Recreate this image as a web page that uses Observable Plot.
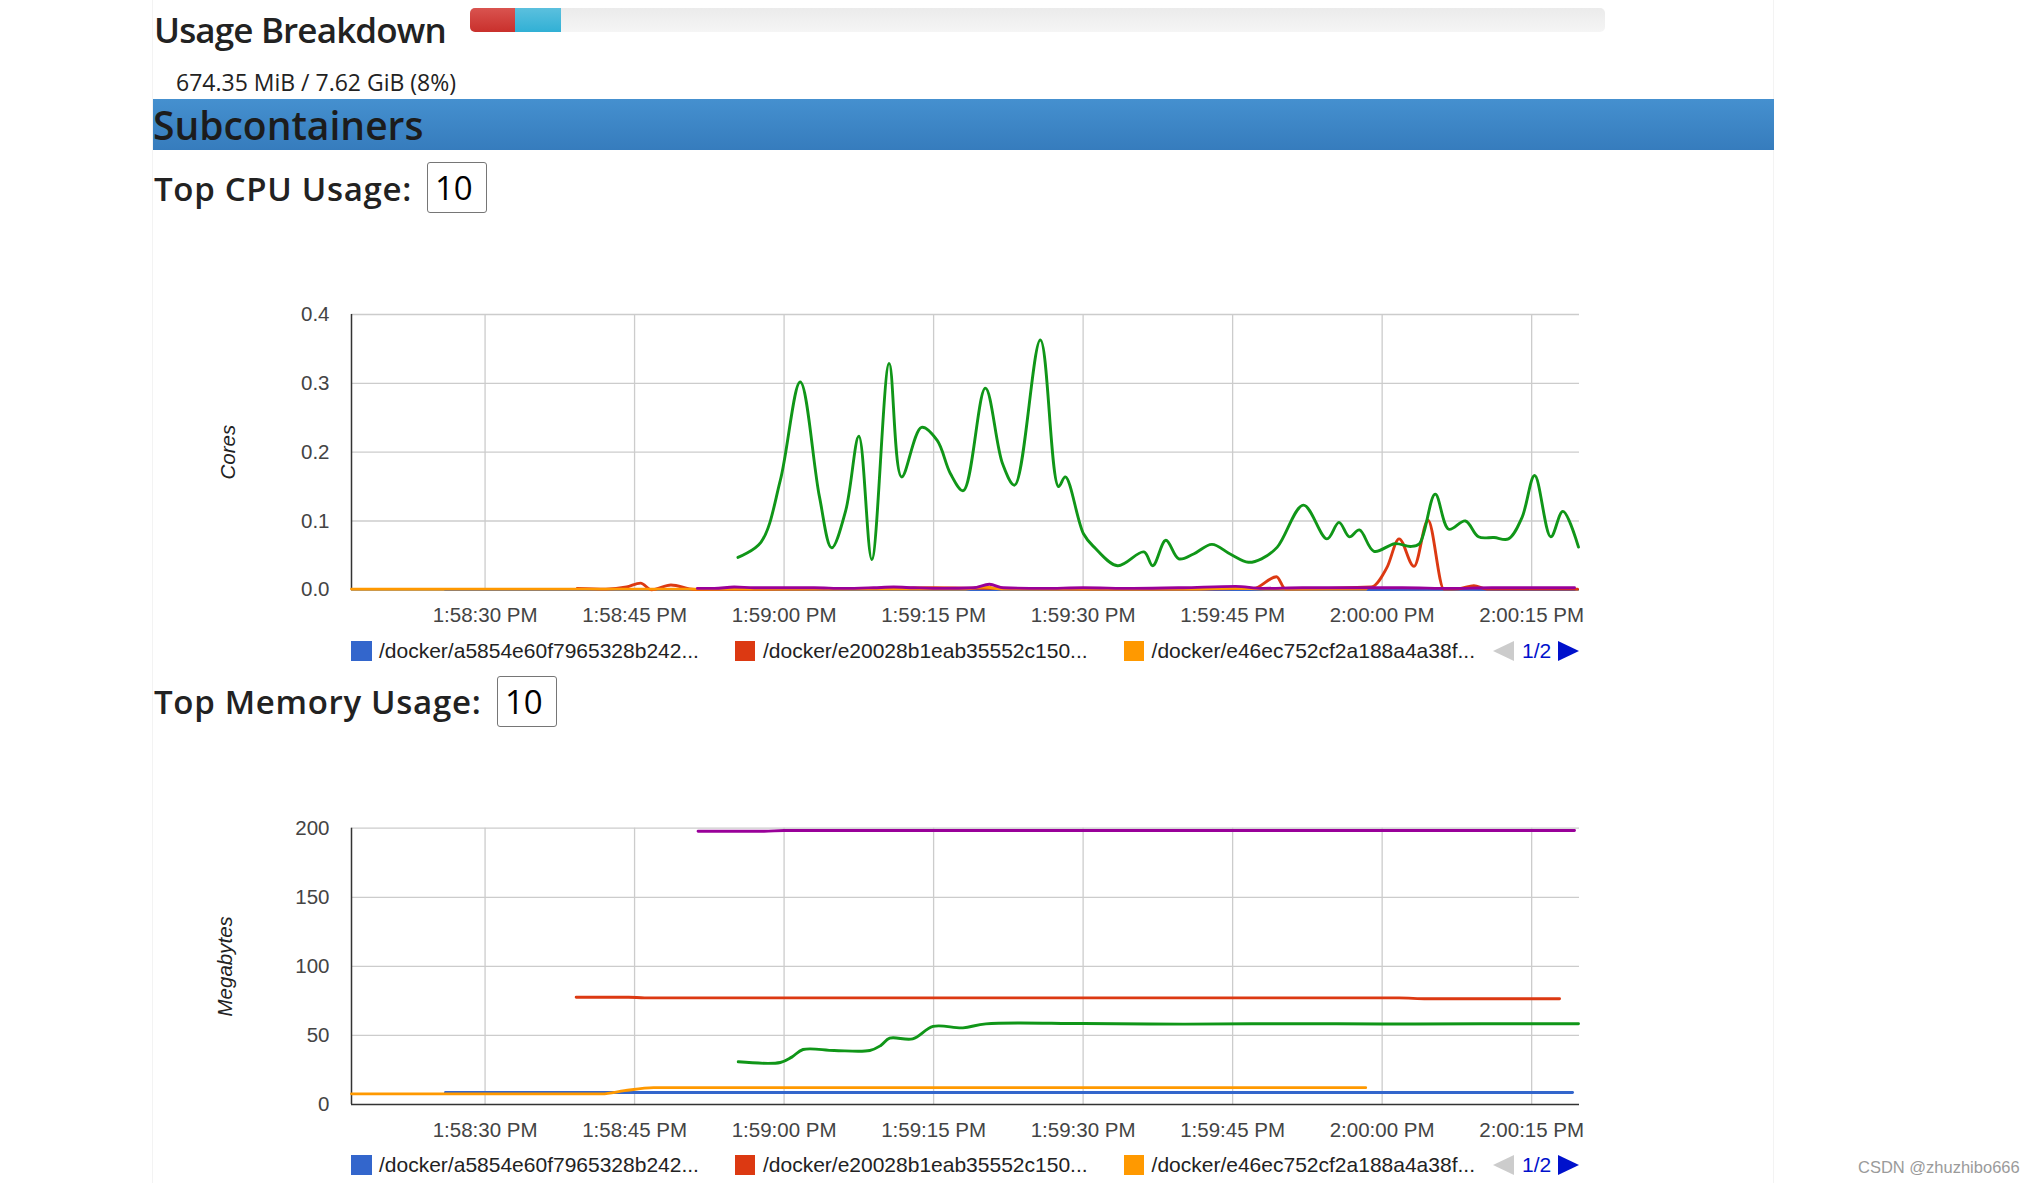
<!DOCTYPE html>
<html><head><meta charset="utf-8">
<script src="https://cdn.jsdelivr.net/npm/d3@7"></script>
<script src="https://cdn.jsdelivr.net/npm/@observablehq/plot@0.6"></script>
<style>
html,body{margin:0;padding:0;background:#fff;}
body{width:2030px;height:1183px;position:relative;overflow:hidden;font-family:"Open Sans","Noto Sans",sans-serif;color:#222;}
.abs{position:absolute;white-space:nowrap;line-height:1;}
.hd{font-weight:600;}
.frame{position:absolute;top:0;bottom:0;width:1px;background:#f3f3f3;}
.num{border:1.3px solid #767676;border-radius:3px;box-sizing:border-box;color:#000;font-size:33px;line-height:1;padding:0 0 0 7px;display:flex;align-items:center;}
.legend{position:absolute;display:flex;align-items:center;font-family:"Liberation Sans",Arial,sans-serif;font-size:21px;color:#222;white-space:nowrap;}
.legend .sw{width:20.5px;height:20px;margin-right:7.5px;flex:none;}
.legend .it{display:flex;align-items:center;margin-right:36px;}
.pager{position:absolute;display:flex;align-items:center;font-family:"Liberation Sans",Arial,sans-serif;font-size:21px;color:#0011cc;}
.tl{width:0;height:0;border-top:10.5px solid transparent;border-bottom:10.5px solid transparent;border-right:21px solid #cccccc;margin-right:8px;}
.tr{width:0;height:0;border-top:10.5px solid transparent;border-bottom:10.5px solid transparent;border-left:21px solid #0011cc;margin-left:7px;}
.chart{position:absolute;left:153px;}
</style>
</head>
<body>
<div class="frame" style="left:152px"></div>
<div class="frame" style="left:1773px"></div>

<div class="abs hd" id="title1" style="left:154px;top:12px;font-size:35px;letter-spacing:-0.85px;">Usage Breakdown</div>
<div id="progress" style="position:absolute;left:469.5px;top:7.5px;width:1135px;height:24.5px;border-radius:5px;overflow:hidden;background:linear-gradient(#ebebeb,#f5f5f5);display:flex;"></div>
<div class="abs" id="memtext" style="left:176px;top:71px;font-size:23px;"></div>

<div style="position:absolute;left:153px;top:99px;width:1621px;height:51px;background:linear-gradient(#4590cf,#367cbd);"></div>
<div class="abs hd" style="left:153px;top:105px;font-size:39px;color:#1c1c1c;letter-spacing:0px;">Subcontainers</div>

<div class="abs hd" style="left:154px;top:172px;font-size:33px;letter-spacing:0.7px;">Top CPU Usage:</div>
<div class="num" style="position:absolute;left:427px;top:162px;width:60px;height:51px;">10</div>

<div class="abs hd" style="left:154px;top:685px;font-size:33px;letter-spacing:0.7px;">Top Memory Usage:</div>
<div class="num" style="position:absolute;left:497px;top:676px;width:60px;height:51px;">10</div>

<div id="cpu" class="chart" style="top:290px;"></div>
<div id="mem" class="chart" style="top:800px;"></div>
<div id="cpuLegend" class="legend" style="left:351px;top:640px;height:21px;"></div>
<div id="memLegend" class="legend" style="left:351px;top:1154px;height:21px;"></div>
<div class="pager" style="left:1493px;top:640px;height:21px;"><div class="tl"></div>1/2<div class="tr"></div></div>
<div class="pager" style="left:1493px;top:1154px;height:21px;"><div class="tl"></div>1/2<div class="tr"></div></div>

<div class="abs" style="left:1858px;top:1159px;font-family:'Liberation Sans',Arial,sans-serif;font-size:16.5px;color:#9a9a9a;">CSDN @zhuzhibo666</div>

<script>
// ---------- data ----------
const memoryUsedText = "674.35 MiB / 7.62 GiB (8%)";
const breakdownPct = [4.0, 4.05];            // red (hot), blue (total) segments, percent of limit
const breakdownColors = [["#d9534f","#c9302c"],["#5bc0de","#31b0d5"]];

const seriesNames = [
  "/docker/a5854e60f7965328b242...",
  "/docker/e20028b1eab35552c150...",
  "/docker/e46ec752cf2a188a4a38f...",
  "/docker/green",
  "/docker/purple"
];
const seriesColors = ["#3366cc","#dc3912","#ff9900","#109618","#990099"];
const legendCount = 3;

// time in seconds after 1:58:00 PM
const xDomainSec = [16.6, 139.8];
const xTickSec = [30, 45, 60, 75, 90, 105, 120, 135];
const cpuTicks = [0, 0.1, 0.2, 0.3, 0.4];
const memTicks = [0, 50, 100, 150, 200];

// CPU (cores)
const cpuBlueT = [26.0, 60, 90, 118.4, 125, 132, 139.3];
const cpuBlueV = [0.0005, 0.0005, 0.0005, 0.0005, 0.0006, 0.0005, 0.0005];

const cpuRedT = [39.25, 42.1, 44.2, 45.6, 46.7, 48.65, 51.0, 60, 70, 75, 80, 90, 100, 107.1, 109.4, 110.3, 118.9, 120.5, 121.7, 123.2, 124.6, 126.2, 127.7, 129.2, 130.5, 139.6];
const cpuRedV = [0.002, 0.001, 0.004, 0.0097, 0.0, 0.007, 0.0005, 0.001, 0.002, 0.003, 0.002, 0.001, 0.001, 0.002, 0.019, 0.001, 0.004, 0.033, 0.074, 0.034, 0.101, 0.001, 0.0015, 0.006, 0.001, 0.001];

const cpuOrangeT = [16.6, 30, 40, 50, 60, 70, 78, 80, 82, 90, 100, 105, 110, 118.4];
const cpuOrangeV = [0.001, 0.001, 0.001, 0.001, 0.001, 0.001, 0.001, 0.004, 0.001, 0.001, 0.001, 0.002, 0.001, 0.001];

const cpuGreenT = [55.37, 57.67, 59.62, 61.62, 63.55, 64.77, 66.18, 67.5, 68.8, 70.54, 71.79, 73.79, 75.36, 76.68, 77.98, 80.19, 81.92, 83.13, 85.71, 87.53, 88.22, 90.05, 91.11, 93.46, 96.09, 96.99, 98.3, 99.6, 101.08, 102.92, 104.75, 106.58, 107.9, 109.48, 112.1, 114.46, 115.67, 116.71, 117.72, 119.18, 121.28, 122.86, 123.74, 125.32, 126.69, 128.35, 129.66, 131.23, 132.67, 134.03, 135.3, 136.92, 138.13, 139.7];
const cpuGreenV = [0.047, 0.069, 0.159, 0.302, 0.135, 0.061, 0.115, 0.223, 0.044, 0.329, 0.164, 0.236, 0.217, 0.169, 0.144, 0.293, 0.183, 0.152, 0.363, 0.150, 0.164, 0.081, 0.062, 0.035, 0.055, 0.035, 0.072, 0.045, 0.052, 0.066, 0.052, 0.040, 0.045, 0.062, 0.123, 0.074, 0.098, 0.077, 0.087, 0.056, 0.067, 0.063, 0.067, 0.139, 0.088, 0.100, 0.077, 0.076, 0.074, 0.105, 0.166, 0.077, 0.114, 0.062];

const cpuPurpleT = [51.3, 53, 55, 57, 60, 63, 66, 69, 71, 73, 76, 79, 80.6, 82, 86, 90, 95, 100, 105.3, 108, 112, 118, 122, 127, 131, 135, 139.3];
const cpuPurpleV = [0.002, 0.002, 0.004, 0.003, 0.003, 0.003, 0.002, 0.003, 0.004, 0.003, 0.002, 0.003, 0.008, 0.003, 0.002, 0.003, 0.002, 0.003, 0.005, 0.002, 0.003, 0.003, 0.003, 0.002, 0.003, 0.003, 0.003];

// Memory (megabytes)
const memBlueT = [26.03, 60, 100, 139.1];
const memBlueV = [8.7, 8.7, 8.7, 8.7];

const memRedT = [39.14, 44.4, 46.0, 80, 121.7, 124.5, 137.8];
const memRedV = [77.6, 77.6, 77.2, 77.2, 77.2, 76.5, 76.5];

const memOrangeT = [16.6, 30, 41.73, 43.98, 46.9, 60, 90, 118.35];
const memOrangeV = [7.7, 7.7, 7.7, 10.0, 12.2, 12.2, 12.2, 12.2];

const memGreenT = [55.4, 59.62, 60.77, 61.9, 65.03, 68.6, 69.7, 70.6, 72.9, 74.95, 77.94, 80.25, 90, 100, 110, 120, 130, 139.7];
const memGreenV = [30.9, 30.4, 34.3, 39.8, 39.1, 39.1, 42.7, 48.0, 47.5, 56.5, 55.5, 58.4, 58.6, 58.2, 58.5, 58.3, 58.4, 58.5];

const memPurpleT = [51.37, 58, 60, 100, 139.3];
const memPurpleV = [197.8, 197.8, 198.3, 198.3, 198.3];

// ---------- build ----------
const base = Date.UTC(2024, 0, 1, 13, 58, 0);
const toDate = s => new Date(base + s * 1000);
const fmtTime = d3.utcFormat("%-I:%M:%S %p");

function rows(T, V, name) { return T.map((t, i) => ({date: toDate(t), v: V[i], series: name})); }

const cpuSeries = [
  rows(cpuBlueT, cpuBlueV, seriesNames[0]),
  rows(cpuRedT, cpuRedV, seriesNames[1]),
  rows(cpuOrangeT, cpuOrangeV, seriesNames[2]),
  rows(cpuGreenT, cpuGreenV, seriesNames[3]),
  rows(cpuPurpleT, cpuPurpleV, seriesNames[4])
];
const memSeries = [
  rows(memBlueT, memBlueV, seriesNames[0]),
  rows(memRedT, memRedV, seriesNames[1]),
  rows(memOrangeT, memOrangeV, seriesNames[2]),
  rows(memGreenT, memGreenV, seriesNames[3]),
  rows(memPurpleT, memPurpleV, seriesNames[4])
];
// green series is smoothed with overshoot (like Google "function" curves); others stay monotone
const curves = ["monotone-x", "monotone-x", "monotone-x", "catmull-rom", "monotone-x"];

const xDomain = xDomainSec.map(toDate);
const xTicks = xTickSec.map(toDate);

function chart(series, yTicks, yFmt, title, opts) {
  return Plot.plot({
    width: 1621,
    height: opts.height,
    marginLeft: 198,
    marginRight: 195,
    marginTop: opts.marginTop,
    marginBottom: opts.marginBottom,
    style: {fontFamily: "'Liberation Sans', Arial, sans-serif", fontSize: "20.5px", color: "#444", background: "transparent", overflow: "visible"},
    x: {type: "utc", domain: xDomain},
    y: {domain: [yTicks[0], yTicks[yTicks.length - 1]]},
    color: {domain: seriesNames, range: seriesColors},
    marks: [
      Plot.ruleY(yTicks.slice(1), {stroke: "#cccccc", strokeWidth: 1.3}),
      Plot.ruleX(xTicks, {stroke: "#cccccc", strokeWidth: 1.3}),
      Plot.ruleY([yTicks[0]], {stroke: "#333333", strokeWidth: 1.5}),
      Plot.ruleX([xDomain[0]], {stroke: "#333333", strokeWidth: 1.5}),
      Plot.axisY({ticks: yTicks, tickFormat: yFmt, tickSize: 0, tickPadding: 22, label: null, fill: "#444"}),
      Plot.axisX({ticks: xTicks, tickFormat: fmtTime, tickSize: 0, tickPadding: 18, label: null, fill: "#444"}),
      ...series.map((s, i) => Plot.lineY(s, {x: "date", y: "v", stroke: "series", strokeWidth: 2.9, curve: curves[i]})),
      Plot.text([title], {frameAnchor: "left", textAnchor: "middle", dx: opts.titleDx, rotate: -90, fontStyle: "italic", fill: "#222", fontSize: 20.5})
    ]
  });
}

document.getElementById("cpu").append(chart(cpuSeries, cpuTicks, d3.format(".1f"), "Cores",
  {height: 340, marginTop: 24, marginBottom: 40.7, titleDx: -123}));
document.getElementById("mem").append(chart(memSeries, memTicks, d3.format("d"), "Megabytes",
  {height: 344, marginTop: 27.7, marginBottom: 40, titleDx: -126}));

// legends
for (const id of ["cpuLegend", "memLegend"]) {
  const el = document.getElementById(id);
  seriesNames.slice(0, legendCount).forEach((n, i) => {
    const it = document.createElement("div"); it.className = "it";
    const sw = document.createElement("div"); sw.className = "sw"; sw.style.background = seriesColors[i];
    const tx = document.createElement("span"); tx.textContent = n;
    it.append(sw, tx); el.append(it);
  });
}

// usage breakdown bar
document.getElementById("memtext").textContent = memoryUsedText;
const prog = document.getElementById("progress");
breakdownPct.forEach((p, i) => {
  const seg = document.createElement("div");
  seg.style.width = p + "%";
  seg.style.height = "100%";
  seg.style.background = `linear-gradient(${breakdownColors[i][0]},${breakdownColors[i][1]})`;
  prog.append(seg);
});
</script>
</body></html>
